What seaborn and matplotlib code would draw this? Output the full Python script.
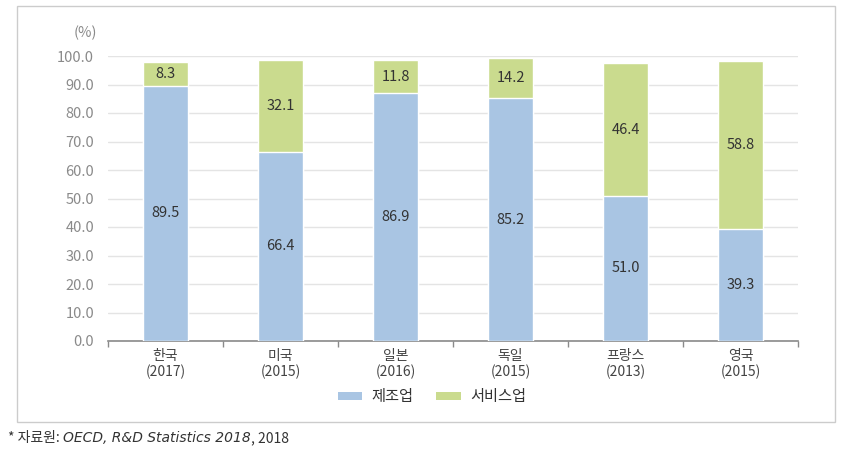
import matplotlib
matplotlib.use("Agg")
import matplotlib.pyplot as plt
import seaborn as sns
import pandas as pd
from matplotlib.patches import Rectangle, Patch

countries = ["한국\n(2017)", "미국\n(2015)", "일본\n(2016)", "독일\n(2015)", "프랑스\n(2013)", "영국\n(2015)"]
manufacturing = [89.5, 66.4, 86.9, 85.2, 51.0, 39.3]
services = [8.3, 32.1, 11.8, 14.2, 46.4, 58.8]
series_names = ["제조업", "서비스업"]
yticks = [0, 10, 20, 30, 40, 50, 60, 70, 80, 90, 100]

sns.set_theme(style="white")
plt.rcParams['font.family'] = ['Noto Sans CJK KR', 'DejaVu Sans']

blue = "#a9c5e3"
green = "#cadb8e"

df = pd.DataFrame({
    "country": countries,
    "manufacturing": manufacturing,
    "services": services,
})
df["total"] = df["manufacturing"] + df["services"]

fig = plt.figure(figsize=(8.43, 4.68), dpi=100)
ax = fig.add_axes([108/843, 1-341/468, (798-108)/843, (341-56)/468])

sns.barplot(data=df, x="country", y="total", color=green, saturation=1, width=0.39, ax=ax, zorder=2)
sns.barplot(data=df, x="country", y="manufacturing", color=blue, saturation=1, width=0.39, ax=ax, zorder=3)

for i, (m, s) in enumerate(zip(manufacturing, services)):
    ax.text(i, m / 2, f"{m:.1f}", ha="center", va="center", fontsize=10.5, color="#333333", zorder=4)
    ax.text(i, m + s / 2, f"{s:.1f}", ha="center", va="center", fontsize=10.5, color="#333333", zorder=4)

ax.set_ylim(0, 100)
ax.set_xlim(-0.5, 5.5)
ax.set_yticks(yticks)
ax.set_yticklabels([f"{v:.1f}" for v in yticks], fontsize=10.5, color="#8a8a8a")
ax.yaxis.grid(True, color="#e4e4e4", linewidth=1, zorder=0)
ax.set_axisbelow(True)
for sp in ["top", "right", "left"]:
    ax.spines[sp].set_visible(False)
ax.spines["bottom"].set_color("#8a8a8a")
ax.spines["bottom"].set_linewidth(1.2)
ax.tick_params(axis="y", length=0, pad=10)
ax.set_xticks([-0.5, 0.5, 1.5, 2.5, 3.5, 4.5, 5.5], minor=True)
ax.tick_params(axis="x", which="minor", length=4, direction="out", color="#8a8a8a", width=1, bottom=True)
ax.tick_params(axis="x", which="major", length=0, pad=6)
ax.set_xticklabels(countries, fontsize=10, color="#444444", linespacing=1.1)
ax.set_xlabel("")
ax.set_ylabel("")

fig.text(97/843, 1-33/468, "(%)", ha="right", va="center", fontsize=10.5, color="#8a8a8a")

handles = [Patch(facecolor=blue, edgecolor="none"), Patch(facecolor=green, edgecolor="none")]
fig.legend(handles, series_names, loc="center", bbox_to_anchor=(432/843, 1-397/468), ncol=2,
           frameon=False, fontsize=11, handlelength=1.6, handleheight=0.45, columnspacing=1.5,
           handletextpad=0.6, labelcolor="#333333")

fig.patches.append(Rectangle((17/843, 1-422/468), (835-17)/843, (422-6)/468, transform=fig.transFigure,
                             fill=False, edgecolor="#cccccc", linewidth=1))

renderer = fig.canvas.get_renderer()
y_foot = 1 - 438/468
tA = fig.text(8/843, y_foot, "* 자료원: ", ha="left", va="center", fontsize=10, color="#333333")
bb = tA.get_window_extent(renderer)
x1 = bb.x1 / fig.bbox.width
tB = fig.text(x1, y_foot, "OECD, R&D Statistics 2018", ha="left", va="center", fontsize=10,
              color="#333333", style="italic", family=["DejaVu Sans"])
bb2 = tB.get_window_extent(renderer)
x2 = bb2.x1 / fig.bbox.width
fig.text(x2, y_foot, ", 2018", ha="left", va="center", fontsize=10, color="#333333")

fig.savefig("out.png", dpi=100)
